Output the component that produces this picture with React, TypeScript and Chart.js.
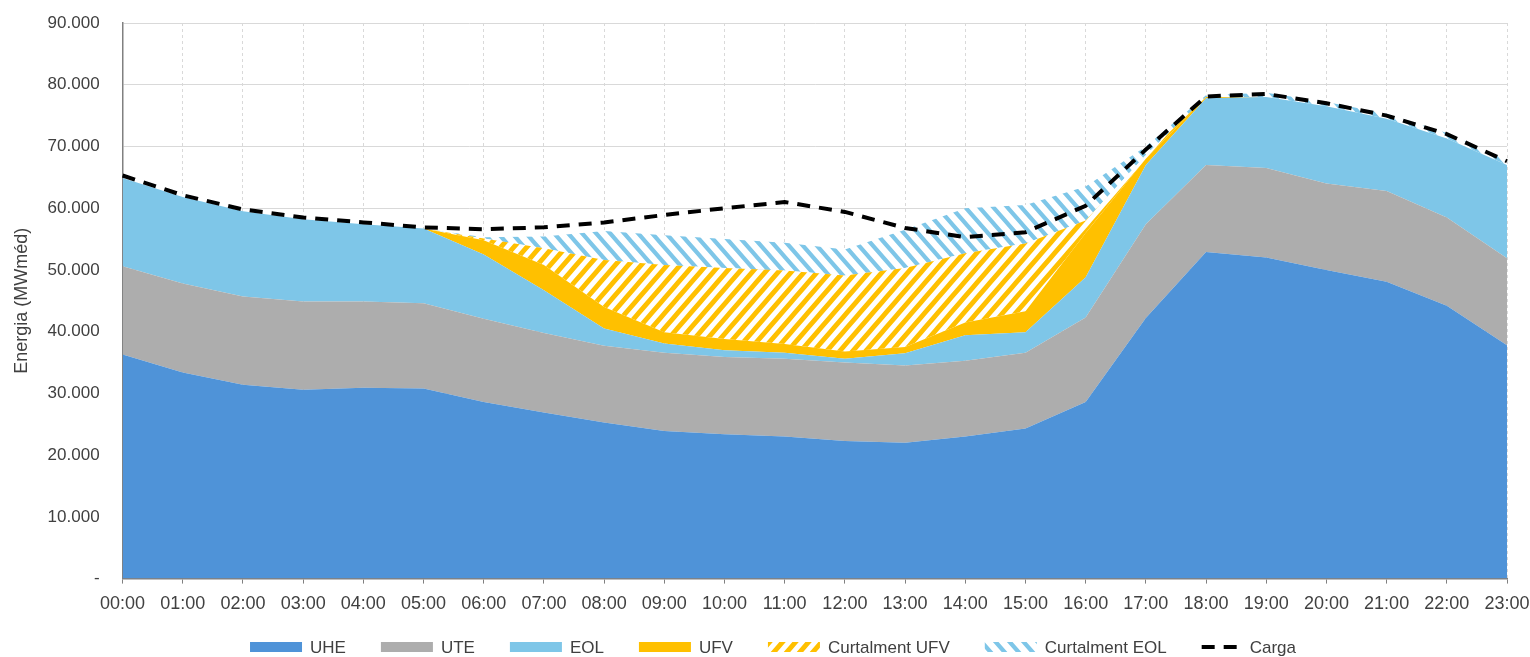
import React, { useEffect, useRef } from "react";
import { Chart, registerables } from "chart.js";

Chart.register(...registerables);

const FONT = '"Liberation Sans", Arial, sans-serif';
const TEXT = "#404040";

const hours = [
  "00:00", "01:00", "02:00", "03:00", "04:00", "05:00", "06:00", "07:00",
  "08:00", "09:00", "10:00", "11:00", "12:00", "13:00", "14:00", "15:00",
  "16:00", "17:00", "18:00", "19:00", "20:00", "21:00", "22:00", "23:00",
];

const uhe = [36300, 33400, 31400, 30600, 30900, 30800, 28600, 26900, 25300, 23900, 23400, 23000, 22300, 22000, 23000, 24300, 28600, 42200, 52900, 52000, 50000, 48100, 44200, 37800];
const ute = [14300, 14400, 14300, 14300, 14000, 13800, 13500, 12900, 12400, 12700, 12500, 12600, 12700, 12500, 12300, 12300, 13700, 15200, 14100, 14500, 14000, 14700, 14300, 14100];
const eol = [14300, 14000, 13800, 13300, 12500, 12100, 10400, 6900, 2800, 1500, 1100, 1000, 600, 2000, 4100, 3300, 6500, 9600, 10800, 11500, 12500, 11700, 12800, 15100];
const ufv = [0, 0, 0, 0, 0, 0, 2300, 4100, 3500, 1800, 1800, 1400, 1200, 1000, 2100, 3400, 7200, 1000, 200, 0, 0, 0, 0, 0];
const curtUfv = [0, 0, 0, 0, 0, 0, 300, 2700, 7600, 10900, 11500, 11900, 12300, 12800, 11200, 11000, 2000, 600, 0, 0, 0, 0, 0, 0];
const curtEol = [0, 0, 0, 0, 0, 0, 200, 1900, 4700, 4800, 4700, 4500, 4200, 6200, 7300, 6200, 5500, 1400, 300, 700, 700, 800, 900, 800];
const carga = [65300, 62100, 59800, 58500, 57700, 56900, 56600, 56900, 57700, 58900, 60000, 61000, 59400, 56800, 55300, 56100, 60400, 69500, 78100, 78500, 77000, 75000, 72000, 67600];

const yMax = 90000;
const yStep = 10000;

function formatY(v: number): string {
  if (v === 0) return "-";
  return String(Math.round(v / 1000)) + ".000";
}

function makeHatch(color: string, a: number, b: number, lw: number, dir: "/" | "\\") {
  const c = document.createElement("canvas");
  c.width = a;
  c.height = b;
  const g = c.getContext("2d")!;
  g.fillStyle = "#ffffff";
  g.fillRect(0, 0, a, b);
  g.strokeStyle = color;
  g.lineWidth = lw;
  g.beginPath();
  for (let m = -1; m <= 2; m++) {
    if (dir === "/") {
      g.moveTo(-a, m * b + b);
      g.lineTo(2 * a, m * b - 2 * b);
    } else {
      g.moveTo(-a, -b - m * b);
      g.lineTo(2 * a, 2 * b - m * b);
    }
  }
  g.stroke();
  return g.createPattern(c, "repeat")!;
}

export default function App() {
  const ref = useRef<HTMLCanvasElement>(null);

  useEffect(() => {
    document.body.style.margin = "0";
    document.body.style.overflow = "hidden";
    const canvas = ref.current!;

    const cUhe = "#4F93D8";
    const cUte = "#ADADAD";
    const cEol = "#7EC6E8";
    const cUfv = "#FFC000";
    const hatchUfv = makeHatch(cUfv, 13, 15, 4.8, "/");
    const hatchEol = makeHatch(cEol, 14, 16, 4.2, "\\");

    const legendPlugin = {
      id: "bottomLegend",
      afterDraw(chart: any) {
        const ctx = chart.ctx as CanvasRenderingContext2D;
        ctx.save();
        ctx.font = `17px ${FONT}`;
        const items = chart.data.datasets.map((ds: any) => {
          const isLine = ds.fill === false;
          const mw = isLine ? 40 : 52;
          return { ds, isLine, mw, tw: ctx.measureText(ds.label).width };
        });
        const gapMT = 8;
        const gapItem = 35;
        const total =
          items.reduce((s: number, it: any) => s + it.mw + gapMT + it.tw, 0) +
          gapItem * (items.length - 1);
        let x = chart.width / 2 + 8 - total / 2;
        const y = 647;
        for (const it of items) {
          if (it.isLine) {
            ctx.strokeStyle = it.ds.borderColor;
            ctx.lineWidth = it.ds.borderWidth;
            ctx.setLineDash(it.ds.borderDash);
            ctx.beginPath();
            ctx.moveTo(x, y);
            ctx.lineTo(x + it.mw, y);
            ctx.stroke();
            ctx.setLineDash([]);
          } else {
            ctx.fillStyle = it.ds.backgroundColor;
            ctx.fillRect(x, y - 5, it.mw, 10);
          }
          x += it.mw + gapMT;
          ctx.fillStyle = TEXT;
          ctx.textBaseline = "middle";
          ctx.textAlign = "left";
          ctx.fillText(it.ds.label, x, y + 1);
          x += it.tw + gapItem;
        }
        ctx.restore();
      },
    };

    const area = (label: string, data: number[], bg: any, fill: any) => ({
      label,
      data,
      backgroundColor: bg,
      borderColor: "rgba(0,0,0,0)",
      borderWidth: 0,
      pointRadius: 0,
      pointHoverRadius: 0,
      fill,
      tension: 0,
      stack: "gen",
    });

    const chart = new Chart(canvas, {
      type: "line",
      data: {
        labels: hours,
        datasets: [
          area("UHE", uhe, cUhe, "origin"),
          area("UTE", ute, cUte, "-1"),
          area("EOL", eol, cEol, "-1"),
          area("UFV", ufv, cUfv, "-1"),
          area("Curtalment UFV", curtUfv, hatchUfv, "-1"),
          area("Curtalment EOL", curtEol, hatchEol, "-1"),
          {
            label: "Carga",
            data: carga,
            borderColor: "#000000",
            backgroundColor: "rgba(0,0,0,0)",
            borderWidth: 4,
            borderDash: [13, 9],
            pointRadius: 0,
            pointHoverRadius: 0,
            fill: false,
            tension: 0,
            stack: "load",
            order: -1,
          } as any,
        ],
      },
      options: {
        responsive: true,
        maintainAspectRatio: false,
        animation: false,
        events: [],
        layout: { padding: { left: 4, right: 23, top: 23, bottom: 32 } },
        plugins: {
          legend: { display: false },
          tooltip: { enabled: false },
        },
        scales: {
          x: {
            grid: {
              color: "#D9D9D9",
              lineWidth: 1,
              drawTicks: true,
              tickLength: 5,
              tickColor: "#808080",
              tickWidth: 1,
            },
            border: { display: true, color: "#808080", width: 1.5, dash: [3, 3] },
            ticks: {
              font: { family: FONT, size: 18, lineHeight: 2.3 },
              color: TEXT,
              padding: 0,
              maxRotation: 0,
              autoSkip: false,
            },
          },
          y: {
            stacked: true,
            min: 0,
            max: yMax,
            grid: {
              color: "#D9D9D9",
              lineWidth: 1,
              drawTicks: true,
              tickLength: 13,
              tickColor: "rgba(0,0,0,0)",
            },
            border: { display: true, color: "#808080", width: 1.5 },
            ticks: {
              stepSize: yStep,
              padding: 10,
              font: { family: FONT, size: 17 },
              color: TEXT,
              callback: (v: any) => formatY(Number(v)),
            },
            title: {
              display: true,
              text: "Energia (MWméd)",
              color: TEXT,
              font: { family: FONT, size: 18 },
              padding: { top: 7, bottom: 5 },
            },
          },
        },
      },
      plugins: [legendPlugin],
    });

    return () => chart.destroy();
  }, []);

  return (
    <div style={{ width: 1530, height: 657, position: "relative" }}>
      <canvas ref={ref} />
    </div>
  );
}
